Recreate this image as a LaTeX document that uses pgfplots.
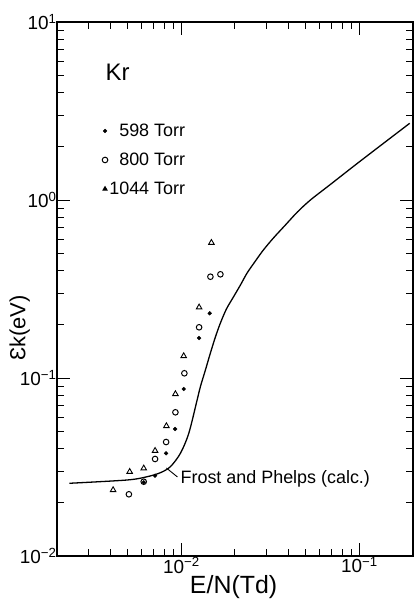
\documentclass[border=0pt]{standalone}
\usepackage{fontspec}
\setmainfont{Liberation Sans}
\usepackage{pgfplots}
\pgfplotsset{compat=1.18}

\begin{document}
\begin{tikzpicture}
\begin{axis}[
  xmode=log, ymode=log,
  scale only axis,
  width=356bp, height=534bp,
  xmin=0.002, xmax=0.2,
  ymin=0.01, ymax=10,
  axis line style={line width=1.3pt},
  every tick/.style={black, line width=1pt},
  major tick length=13bp,
  minor tick length=7bp,
  xtick={0.01,0.1},
  xticklabels={10\textsuperscript{−2},10\textsuperscript{−1}},
  minor xtick={0.003,0.004,0.005,0.006,0.007,0.008,0.009,0.02,0.03,0.04,0.05,0.06,0.07,0.08,0.09},
  ytick={0.01,0.1,1,10},
  yticklabels={10\textsuperscript{−2},10\textsuperscript{−1},10\textsuperscript{0},10\textsuperscript{1}},
  minor ytick={0.02,0.03,0.04,0.05,0.06,0.07,0.08,0.09,0.2,0.3,0.4,0.5,0.6,0.7,0.8,0.9,2,3,4,5,6,7,8,9},
  ticklabel style={font=\fontsize{19}{21}\selectfont},
  xticklabel style={yshift=2bp},
  yticklabel style={xshift=3bp},
  xlabel={E/N(Td)},
  xlabel style={font=\fontsize{25}{27}\selectfont, at={(axis description cs:0.496,-0.058)}, anchor=center},
  ylabel={Ɛk(eV)},
  ylabel style={font=\fontsize{22}{24}\selectfont, at={(axis description cs:-0.105,0.427)}, anchor=center},
  legend cell align=right,
  legend style={at={(axis description cs:0.373,0.816)}, anchor=north east,
    draw=none, fill=none, row sep=12bp,
    font=\fontsize{18}{20}\selectfont, nodes={inner sep=1.5bp}},
  legend image code/.code={\draw[mark repeat=2,mark phase=2,#1] plot coordinates {(0cm,0cm)(0.12cm,0cm)(0.24cm,0cm)};},
]
% 598 Torr
\addplot[only marks, mark=*, mark size=1.9bp, black] coordinates {
  (0.006141,0.02594) (0.007114,0.02826) (0.008204,0.03776) (0.009217,0.05169)
  (0.01030,0.08676) (0.01257,0.1677) (0.01442,0.2309)
};
% 800 Torr
\addplot[only marks, mark=o, mark size=2.8bp, line width=1pt, black] coordinates {
  (0.005069,0.02222) (0.006141,0.02615) (0.007114,0.03508) (0.008204,0.04369)
  (0.009254,0.06417) (0.01039,0.1063) (0.01257,0.1927) (0.01455,0.3708) (0.01656,0.3825)
};
% 1044 Torr
\addplot[only marks, mark=triangle, mark size=3.2bp, line width=0.9pt, black,
  legend image post style={mark=triangle*, mark size=2.4bp}] coordinates {
  (0.004133,0.02349) (0.005122,0.02975) (0.006141,0.03110) (0.007114,0.03905)
  (0.008235,0.05374) (0.009254,0.08132) (0.01030,0.1329) (0.01257,0.2496) (0.01474,0.5756)
};
% Frost and Phelps (calc.)
\addplot[black, line width=1.3pt, smooth, forget plot] coordinates {
  (0.00235,0.02562) (0.004955,0.02673) (0.006418,0.02789) (0.007621,0.02938)
  (0.008674,0.03177) (0.00987,0.03776) (0.0110,0.04891) (0.01225,0.07522)
  (0.01278,0.0894) (0.01364,0.1109) (0.01455,0.1382) (0.01552,0.1699)
  (0.01656,0.2037) (0.01790,0.2441) (0.01960,0.2852) (0.02146,0.3331)
  (0.02339,0.389) (0.02605,0.4543) (0.02888,0.5240) (0.03287,0.6115)
  (0.03839,0.7237) (0.04484,0.8563) (0.05305,1.0) (0.06873,1.2233)
  (0.1013,1.6562) (0.1917,2.698)
};
\legend{598 Torr, 800 Torr, 1044 Torr}
\node[anchor=west, font=\fontsize{24}{26}\selectfont, inner sep=0pt] at (axis cs:0.003741,5.24) {Kr};
\draw[line width=0.9pt] (axis cs:0.00824,0.0312) -- (axis cs:0.00950,0.0278);
\node[anchor=west, font=\fontsize{18}{20}\selectfont, inner sep=0pt] at (axis cs:0.00987,0.0271) {Frost and Phelps (calc.)};
\end{axis}
\pgfresetboundingbox
\path (current axis.south west) ++(-57bp,-56bp) rectangle ([shift={(4bp,22bp)}]current axis.north east);
\end{tikzpicture}
\end{document}
